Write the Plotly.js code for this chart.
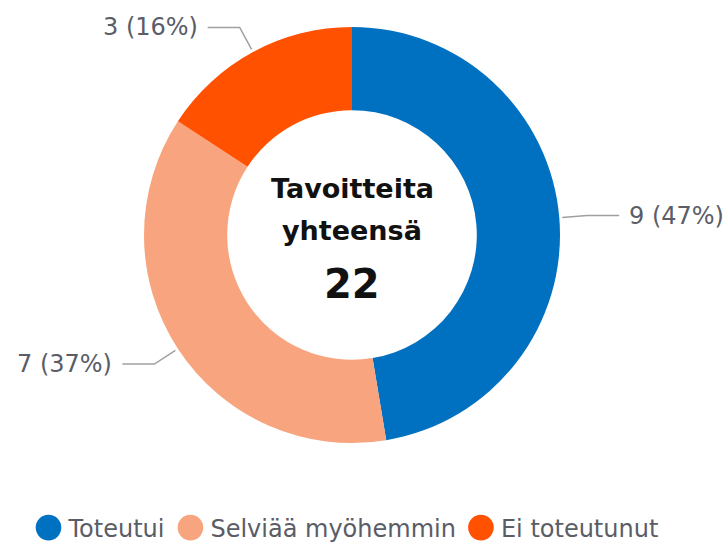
<!DOCTYPE html>
<html>
<head>
<meta charset="utf-8">
<script src="https://cdn.plot.ly/plotly-3.0.1.min.js"></script>
<style>
  html, body { margin: 0; padding: 0; background: #ffffff; }
  #chart { width: 728px; height: 554px; }
</style>
</head>
<body>
<div id="chart"></div>
<script>
// ---- Data ----
const categories = ['Toteutui', 'Selviää myöhemmin', 'Ei toteutunut'];
const values = [9, 7, 3];
const sliceColors = ['#0070C0', '#F8A47E', '#FF5100'];
const centerTitleLines = ['Tavoitteita', 'yhteensä'];
const centerTotal = '22';

// ---- Geometry (layout) ----
const W = 728, H = 554;
const cx = 352, cy = 235, R = 208;
const px = x => x / W;
const py = y => 1 - y / H;

const FONT = 'DejaVu Sans, Arial, sans-serif';
const labelColor = '#5a5c66';
const lineColor = '#a0a0a0';

const total = values.reduce((a, b) => a + b, 0);

// Leader lines and labels computed from slice angles
const shapes = [];
const annotations = [];
let cum = 0;
values.forEach((v, i) => {
  const mid = (cum + v / 2) / total * 2 * Math.PI; // clockwise from 12 o'clock
  cum += v;
  const s = Math.sin(mid), c = Math.cos(mid);
  const p0 = [cx + (R + 3) * s, cy - (R + 3) * c];
  const p1 = [cx + (R + 28) * s, cy - (R + 28) * c];
  const dir = s >= 0 ? 1 : -1;
  const p2 = [p1[0] + dir * 32, p1[1]];
  shapes.push({
    type: 'path', xref: 'paper', yref: 'paper',
    path: `M ${px(p0[0])} ${py(p0[1])} L ${px(p1[0])} ${py(p1[1])} L ${px(p2[0])} ${py(p2[1])}`,
    line: { color: lineColor, width: 1.5 }
  });
  const pct = Math.round(v / total * 100);
  annotations.push({
    xref: 'paper', yref: 'paper',
    x: px(p2[0] + dir * 8), y: py(p2[1]),
    xanchor: dir > 0 ? 'left' : 'right', yanchor: 'middle',
    text: `${v} (${pct}%)`, showarrow: false,
    font: { family: FONT, size: 24, color: labelColor }
  });
});

// Center text
annotations.push(
  { xref: 'paper', yref: 'paper', x: px(cx), y: py(189), xanchor: 'center', yanchor: 'middle',
    text: '<b>' + centerTitleLines[0] + '</b>', showarrow: false,
    font: { family: FONT, size: 27, color: '#111111' } },
  { xref: 'paper', yref: 'paper', x: px(cx), y: py(231), xanchor: 'center', yanchor: 'middle',
    text: '<b>' + centerTitleLines[1] + '</b>', showarrow: false,
    font: { family: FONT, size: 27, color: '#111111' } },
  { xref: 'paper', yref: 'paper', x: px(cx), y: py(284), xanchor: 'center', yanchor: 'middle',
    text: '<b>' + centerTotal + '</b>', showarrow: false,
    font: { family: FONT, size: 40, color: '#111111' } }
);

const data = [{
  type: 'pie',
  labels: categories,
  values: values,
  hole: 0.6,
  sort: false,
  direction: 'clockwise',
  rotation: 0,
  textinfo: 'none',
  marker: { colors: sliceColors, line: { width: 0 } },
  showlegend: false,
  domain: { x: [px(cx - R), px(cx + R)], y: [py(cy + R), py(cy - R)] }
}];

// Legend entries (circle markers)
categories.forEach((cat, i) => {
  data.push({
    type: 'scatter', mode: 'markers', x: [null], y: [null],
    name: cat, showlegend: true,
    marker: { symbol: 'circle', size: 16, color: sliceColors[i] }
  });
});

const layout = {
  width: W, height: H,
  margin: { l: 0, r: 0, t: 0, b: 0 },
  paper_bgcolor: '#ffffff', plot_bgcolor: '#ffffff',
  xaxis: { visible: false }, yaxis: { visible: false },
  showlegend: true,
  legend: {
    orientation: 'h', x: px(346), xanchor: 'center', y: py(528), yanchor: 'middle',
    font: { family: FONT, size: 24, color: '#5a5c66' },
    itemclick: false, itemdoubleclick: false
  },
  shapes: shapes,
  annotations: annotations
};

Plotly.newPlot('chart', data, layout, { staticPlot: true, displayModeBar: false }).then(gd => {
  gd.querySelectorAll('.legend .legendpoints path').forEach(p => {
    const t = p.getAttribute('transform') || '';
    p.setAttribute('transform', t + ' scale(1.6)');
  });
});
</script>
</body>
</html>
